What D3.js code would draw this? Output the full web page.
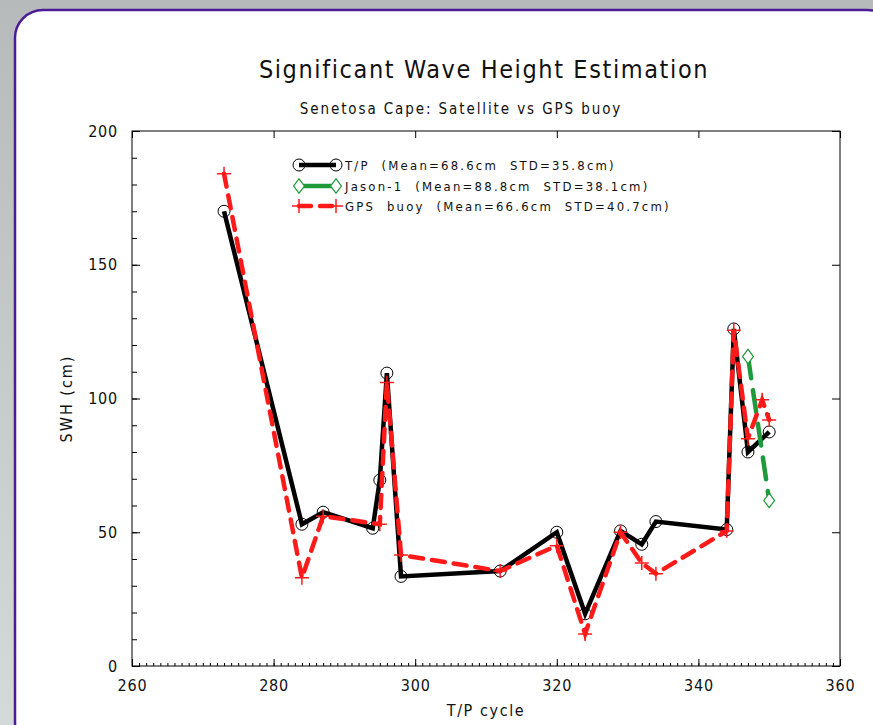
<!DOCTYPE html>
<html><head><meta charset="utf-8">
<script src="https://cdn.jsdelivr.net/npm/d3@7"></script>
<style>body{margin:0;padding:0;overflow:hidden;} svg{display:block;} text{white-space:pre;}</style>
</head><body>
<svg id="chart" width="873" height="725"></svg>
<script>
// ---- data ----
const tpCycles   = [273, 284, 287, 294, 295, 296, 298, 312, 320, 324, 329, 332, 334, 344, 345, 347, 350];
const tpSWH      = [170, 53, 57.5, 51.5, 69.5, 109.5, 33.5, 35.5, 50, 19.5, 50.5, 45.5, 54, 51, 126, 80, 87.5];
const jasonCycles= [347, 350];
const jasonSWH   = [115.7, 61.9];
const gpsCycles  = [273, 284, 287, 295, 296, 298, 312, 320, 324, 329, 332, 334, 344, 345, 347, 349, 350];
const gpsSWH     = [184, 33, 56, 53, 106, 41.5, 35.5, 45, 12, 50, 38.5, 34.5, 50.5, 125.5, 85, 99.5, 92];
const legendLabels = ["T/P  (Mean=68.6cm  STD=35.8cm)", "Jason-1  (Mean=88.8cm  STD=38.1cm)", "GPS  buoy  (Mean=66.6cm  STD=40.7cm)"];
const xTicks = [260, 280, 300, 320, 340, 360];
const yTicks = [0, 50, 100, 150, 200];

const svg = d3.select("#chart");
const font = "'DejaVu Sans Condensed','DejaVu Sans',sans-serif";

// background
const defs = svg.append("defs");
const g1 = defs.append("linearGradient").attr("id","bg").attr("x1",0).attr("y1",0).attr("x2",0).attr("y2",1);
g1.append("stop").attr("offset","0%").attr("stop-color","#b6babb");
g1.append("stop").attr("offset","100%").attr("stop-color","#d4dada");
svg.append("rect").attr("width",873).attr("height",725).attr("fill","url(#bg)");
svg.append("rect").attr("x",15).attr("y",10).attr("width",880).attr("height",740)
  .attr("rx",28).attr("ry",28).attr("fill","#ffffff").attr("stroke","#4b1c96").attr("stroke-width",2.5);

const L = 132, R = 840, T = 131, B = 666;
const x = d3.scaleLinear().domain([260, 360]).range([L, R]);
const y = d3.scaleLinear().domain([0, 200]).range([B, T]);

// titles
svg.append("text").attr("x",484).attr("y",78).attr("text-anchor","middle")
  .attr("font-family",font).attr("font-size",25).attr("letter-spacing",1.6).attr("fill","#111").text("Significant Wave Height Estimation");
svg.append("text").attr("x",461).attr("y",114).attr("text-anchor","middle")
  .attr("font-family",font).attr("font-size",15).attr("letter-spacing",1.9).attr("fill","#111").text("Senetosa Cape: Satellite vs GPS buoy");

// frame
svg.append("rect").attr("x",L).attr("y",T).attr("width",R-L).attr("height",B-T)
  .attr("fill","none").attr("stroke","#000").attr("stroke-width",1);

// axes: bottom
const axB = svg.append("g").attr("transform",`translate(0,${B})`);
axB.call(d3.axisBottom(x).tickValues(d3.range(260,361,1)).tickSize(-3).tickFormat(""));
axB.call(g=>g.select(".domain").remove());
const axB2 = svg.append("g").attr("transform",`translate(0,${B})`)
  .call(d3.axisBottom(x).tickValues(xTicks).tickSize(-7).tickPadding(14).tickFormat(d3.format("d")));
axB2.select(".domain").remove();
axB2.selectAll("text").attr("font-family",font).attr("font-size",16).attr("letter-spacing",0.8).attr("fill","#111");
// top
const axT = svg.append("g").attr("transform",`translate(0,${T})`);
axT.call(d3.axisTop(x).tickValues(d3.range(260,361,1)).tickSize(-3).tickFormat(""));
axT.call(d3.axisTop(x).tickValues(xTicks).tickSize(-7).tickFormat(""));
axT.selectAll(".domain").remove();
// left
const axL = svg.append("g").attr("transform",`translate(${L},0)`);
axL.call(d3.axisLeft(y).tickValues(d3.range(0,201,10)).tickSize(-5).tickFormat(""));
axL.selectAll(".domain").remove();
const axL2 = svg.append("g").attr("transform",`translate(${L},0)`)
  .call(d3.axisLeft(y).tickValues(yTicks).tickSize(-8).tickPadding(14).tickFormat(d3.format("d")));
axL2.select(".domain").remove();
axL2.selectAll("text").attr("font-family",font).attr("font-size",16).attr("letter-spacing",0.8).attr("fill","#111");
// right
const axR = svg.append("g").attr("transform",`translate(${R},0)`);
axR.call(d3.axisRight(y).tickValues(d3.range(0,201,10)).tickSize(-5).tickFormat(""));
axR.call(d3.axisRight(y).tickValues(yTicks).tickSize(-8).tickFormat(""));
axR.selectAll(".domain").remove();
svg.selectAll(".tick line").attr("stroke","#000");

// axis titles
svg.append("text").attr("x",(L+R)/2).attr("y",716).attr("text-anchor","middle")
  .attr("font-family",font).attr("font-size",16).attr("letter-spacing",1.6).attr("fill","#111").text("T/P cycle");
svg.append("text").attr("transform",`translate(72,${(T+B)/2}) rotate(-90)`).attr("text-anchor","middle")
  .attr("font-family",font).attr("font-size",16).attr("letter-spacing",2).attr("fill","#111").text("SWH (cm)");

const line = d3.line().x(d=>x(d[0])).y(d=>y(d[1]));
const tp = tpCycles.map((c,i)=>[c,tpSWH[i]]);
const ja = jasonCycles.map((c,i)=>[c,jasonSWH[i]]);
const gp = gpsCycles.map((c,i)=>[c,gpsSWH[i]]);

const plot = svg.append("g");
// T/P
plot.append("path").datum(tp).attr("d",line).attr("fill","none").attr("stroke","#000").attr("stroke-width",4.5).attr("stroke-linejoin","miter");
plot.selectAll(".tpm").data(tp).enter().append("circle").attr("cx",d=>x(d[0])).attr("cy",d=>y(d[1])).attr("r",6)
  .attr("fill","none").attr("stroke","#000").attr("stroke-width",1);
// Jason-1
plot.append("path").datum(ja).attr("d",line).attr("fill","none").attr("stroke","#1e9a3a").attr("stroke-width",4.5)
  .attr("stroke-dasharray","22,12").attr("stroke-linecap","round");
const diamond = d3.symbol().type(d3.symbolDiamond).size(60);
plot.selectAll(".jam").data(ja).enter().append("path").attr("d",diamond)
  .attr("transform",d=>`translate(${x(d[0])},${y(d[1])}) scale(1.3,1)`)
  .attr("fill","#fff").attr("stroke","#1e9a3a").attr("stroke-width",1);
// GPS
plot.append("path").datum(gp).attr("d",line).attr("fill","none").attr("stroke","#ff1a1a").attr("stroke-width",4.5)
  .attr("stroke-dasharray","13,9").attr("stroke-linecap","round");
plot.selectAll(".gpm").data(gp).enter().append("path")
  .attr("d",d=>{const px=x(d[0]),py=y(d[1]);return `M${px-7},${py}H${px+7}M${px},${py-7}V${py+7}`;})
  .attr("stroke","#ff1a1a").attr("stroke-width",1.5);

// legend
const lg = svg.append("g");
const ly = [165, 186, 206];
const lx0 = 299, lx1 = 336;
lg.append("line").attr("x1",lx0).attr("x2",lx1).attr("y1",ly[0]).attr("y2",ly[0]).attr("stroke","#000").attr("stroke-width",4.5);
[lx0,lx1].forEach(px=>lg.append("circle").attr("cx",px).attr("cy",ly[0]).attr("r",6).attr("fill","none").attr("stroke","#000"));
lg.append("line").attr("x1",lx0).attr("x2",lx1).attr("y1",ly[1]).attr("y2",ly[1]).attr("stroke","#1e9a3a").attr("stroke-width",4.5).attr("stroke-linecap","round");
[lx0,lx1].forEach(px=>lg.append("path").attr("d",diamond).attr("transform",`translate(${px},${ly[1]}) scale(1.3,1)`).attr("fill","#fff").attr("stroke","#1e9a3a"));
lg.append("line").attr("x1",lx0).attr("x2",lx1).attr("y1",ly[2]).attr("y2",ly[2]).attr("stroke","#ff1a1a").attr("stroke-width",4.5).attr("stroke-dasharray","12,9").attr("stroke-linecap","round");
[lx0,lx1].forEach(px=>lg.append("path").attr("d",`M${px-7},${ly[2]}H${px+7}M${px},${ly[2]-7}V${ly[2]+7}`).attr("stroke","#ff1a1a").attr("stroke-width",1.5));
legendLabels.forEach((t,i)=>lg.append("text").attr("x",345).attr("y",ly[i]+4.5).attr("font-family",font).attr("font-size",13).attr("letter-spacing",2.2).attr("xml:space","preserve").attr("fill","#111").text(t));
</script>
</body></html>
